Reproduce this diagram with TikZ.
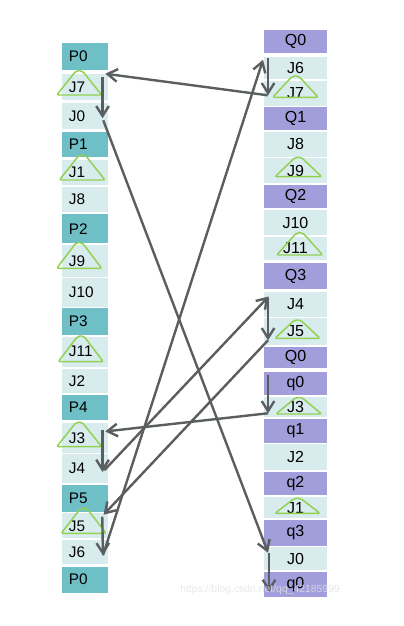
\documentclass[tikz,border=0pt]{standalone}
\usepackage{fontspec}
\setmainfont{Liberation Sans}
\usetikzlibrary{arrows.meta,calc}
\definecolor{pteal}{HTML}{6FBFC6}
\definecolor{jlight}{HTML}{D8ECEE}
\definecolor{qpurp}{HTML}{A29EDB}
\definecolor{arrgray}{HTML}{5B5E60}
\definecolor{trigreen}{HTML}{92D050}
\newcommand\lcell[5]{\node[cellL,fill=#4,minimum height={(#3-#2)*0.75pt}] (#1) at (85,{(#2+#3)/2}) {#5};}
\newcommand\rcell[5]{\node[cellR,fill=#4,minimum height={(#3-#2)*0.75pt}] (#1) at (295.5,{(#2+#3)/2}) {#5};}
\newcommand\tri[4]{\draw[trig] ({#1-3},#2) -- ({#1+3},#2) -- ({#1+#4},#3) -- ({#1-#4},#3) -- cycle;}
\begin{document}
\begin{tikzpicture}[x=0.75pt,y=-0.75pt,
  cellL/.style={rectangle,draw=none,minimum width=34.5pt,inner xsep=5.25pt,inner ysep=0pt,text width=24pt,align=left,font=\fontsize{11.5}{13}\selectfont},
  cellR/.style={rectangle,draw=none,minimum width=46.8pt,inner sep=0pt,align=center,font=\fontsize{12}{13}\selectfont},
  trig/.style={draw=trigreen,line width=1.1pt,rounded corners=1.5pt},
  arr/.style={draw=arrgray,line width=1.8pt,-{Straight Barb[length=7.5pt,width=9.5pt]}}]
\fill[white] (0,0) rectangle (404,626);
\useasboundingbox (0,0) rectangle (404,626);
% left column
\lcell{L1}{42.7}{70}{pteal}{P0}
\lcell{L2}{74}{100}{jlight}{J7}
\lcell{L3}{102.7}{129}{jlight}{J0}
\lcell{L4}{131.7}{157.3}{pteal}{P1}
\lcell{L5}{160}{185}{jlight}{J1}
\lcell{L6}{187.3}{211.7}{jlight}{J8}
\lcell{L7}{214}{243.3}{pteal}{P2}
\lcell{L8}{245}{276.7}{jlight}{J9}
\lcell{L9}{278.3}{306.7}{jlight}{J10}
\lcell{L10}{308.3}{335}{pteal}{P3}
\lcell{L11}{336.7}{366.7}{jlight}{J11}
\lcell{L12}{369}{392.7}{jlight}{J2}
\lcell{L13}{395}{420}{pteal}{P4}
\lcell{L14}{423.3}{452.7}{jlight}{J3}
\lcell{L15}{454.3}{482.7}{jlight}{J4}
\lcell{L16}{485}{511.7}{pteal}{P5}
\lcell{L17}{513.3}{538.3}{jlight}{J5}
\lcell{L18}{540}{564}{jlight}{J6}
\lcell{L19}{566.7}{592.7}{pteal}{P0}
% right column
\rcell{R1}{30}{53.3}{qpurp}{Q0}
\rcell{R2}{56.7}{79.3}{jlight}{J6}
\rcell{R3}{80.7}{106}{jlight}{J7}
\rcell{R4}{107.3}{130}{qpurp}{Q1}
\rcell{R5}{131.7}{156.7}{jlight}{J8}
\rcell{R6}{158.3}{183.3}{jlight}{J9}
\rcell{R7}{185}{208.3}{qpurp}{Q2}
\rcell{R8}{210}{235}{jlight}{J10}
\rcell{R9}{236.7}{260}{jlight}{J11}
\rcell{R10}{263.3}{289.3}{qpurp}{Q3}
\rcell{R11}{291.7}{316.7}{jlight}{J4}
\rcell{R12}{318}{345}{jlight}{J5}
\rcell{R13}{346.7}{368}{qpurp}{Q0}
\rcell{R14}{371.7}{395}{qpurp}{q0}
\rcell{R15}{397}{416.7}{jlight}{J3}
\rcell{R16}{419}{442.7}{qpurp}{q1}
\rcell{R17}{444.3}{470}{jlight}{J2}
\rcell{R18}{472}{495}{qpurp}{q2}
\rcell{R19}{497}{518.3}{jlight}{J1}
\rcell{R20}{520}{545.7}{qpurp}{q3}
\rcell{R21}{547}{570}{jlight}{J0}
\rcell{R22}{571.7}{596.7}{qpurp}{q0}
% triangles
\tri{79.2}{70.7}{95}{22.5}
\tri{82.2}{155}{180}{22.8}
\tri{79.2}{242.7}{268.3}{22.5}
\tri{80.8}{336}{361.7}{22.5}
\tri{79.2}{422.3}{446.7}{22.5}
\tri{83.7}{508.3}{533.3}{22.5}
\tri{295.5}{76}{97.3}{22.8}
\tri{298.3}{157.3}{176.7}{23.3}
\tri{299.7}{232.7}{255}{23}
\tri{297.5}{320}{338.3}{22.5}
\tri{298.8}{397.5}{414}{22.8}
\tri{297.5}{498.3}{513.3}{22.5}
% arrows
\draw[arr] ($(R3.south west)+(3.7,-11)$) -- ($(L2.north east)+(-3,0)$);
\draw[arr] ($(L2.north east)+(-5.7,3)$) -- ($(L3.south east)+(-5.7,-11)$);
\draw[arr] ($(L3.south east)+(-5,-9)$) -- ($(R21.north west)+(4,6)$);
\draw[arr] ($(R2.north west)+(4,1.6)$) -- ($(R3.south west)+(4,-11)$);
\draw[arr] ($(L18.south east)+(-5.3,-9)$) -- ($(R2.north west)+(-1,3.3)$);
\draw[arr] ($(R14.north west)+(4,3.3)$) -- ($(R15.south west)+(4,-3.7)$);
\draw[arr] ($(R15.south west)+(4,-3.7)$) -- ($(L14.north east)+(-3,8.4)$);
\draw[arr] ($(L15.south east)+(-4,-12.7)$) -- ($(R11.north west)+(4.7,5)$);
\draw[arr] ($(R11.north west)+(4,6.3)$) -- ($(R12.south west)+(4,-5)$);
\draw[arr] ($(R12.south west)+(4,-5)$) -- ($(L17.north east)+(-4.7,1.7)$);
\draw[arr] ($(L14.north east)+(-5.7,6.7)$) -- ($(L15.south east)+(-5.7,-11)$);
\draw[arr] ($(L17.north east)+(-6,3.7)$) -- ($(L18.south east)+(-5.3,-9)$);
\draw[arr] ($(R21.north west)+(5,6)$) -- ($(R22.south west)+(5,-5)$);
% watermark
\node[anchor=west,inner sep=0pt,text=gray!22,opacity=0.8,font=\fontsize{7.8}{9}\selectfont] (wm) at (180,590) {https://blog.csdn.net/qq\_42185999};
\end{tikzpicture}
\end{document}
